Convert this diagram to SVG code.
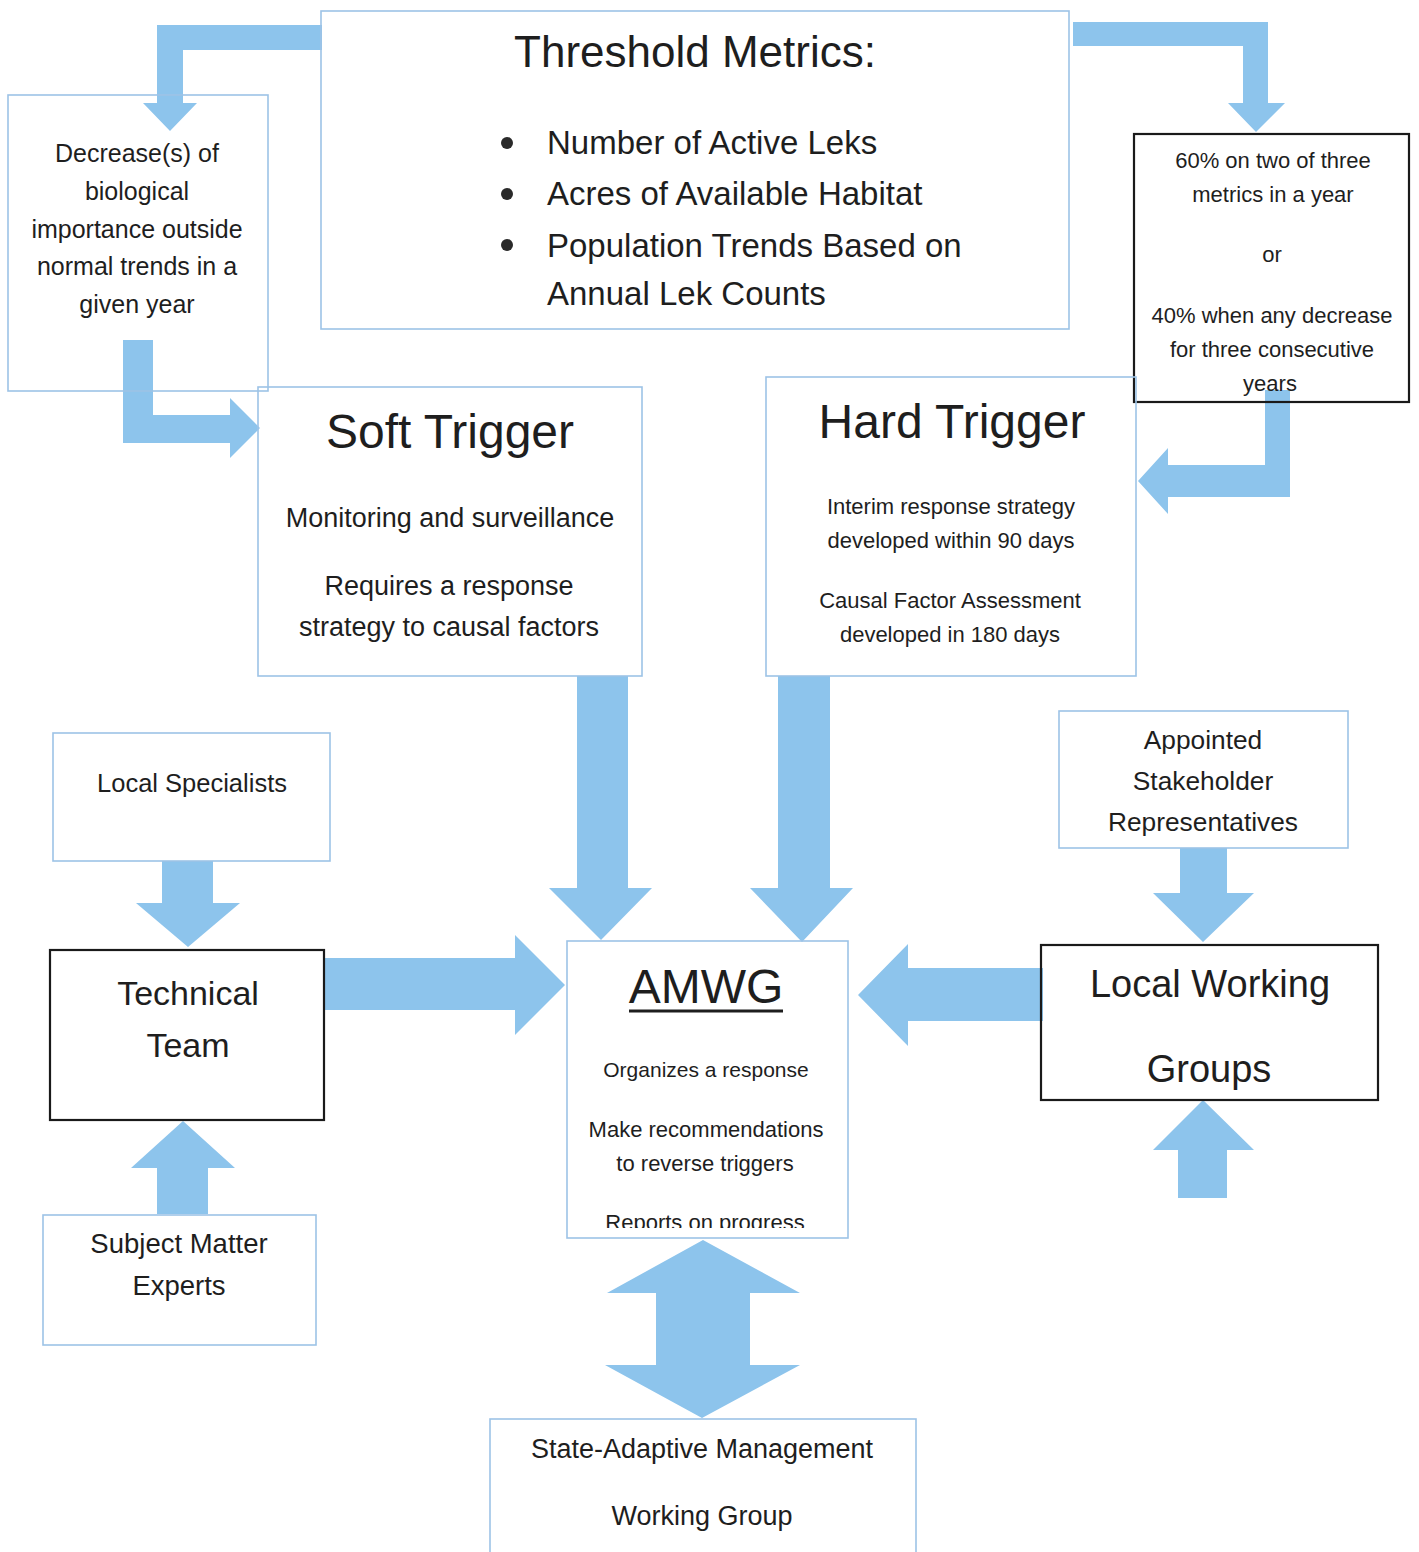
<svg xmlns="http://www.w3.org/2000/svg" width="1419" height="1552" viewBox="0 0 1419 1552">
<defs>
<style>
.box{fill:none;stroke:#9dc3e6;stroke-width:1.6}
.dark{fill:none;stroke:#1a1a1a;stroke-width:2.2}
.arr{fill:#8dc4ec;stroke:none}
text{font-family:"Liberation Sans",Arial,sans-serif;fill:#1e1e1e}
.c{text-anchor:middle}
</style>
<clipPath id="amwgClip"><rect x="567" y="941" width="281" height="287"/></clipPath>
</defs>
<rect width="1419" height="1552" fill="#ffffff"/>
<g id="connectors">
<polygon class="arr" points="322,25 157,25 157,103 143,103 170,131 197,103 183,103 183,50 322,50"/>
<polygon class="arr" points="1073,22 1268,22 1268,103 1285,103 1256,132 1228,103 1243,103 1243,46 1073,46"/>
<polygon class="arr" points="123,340 153,340 153,415 230,415 230,398 260,428 230,458 230,443 123,443"/>
<polygon class="arr" points="1265,390 1290,390 1290,497 1168,497 1168,514 1138,481 1168,448 1168,465 1265,465"/>
<polygon class="arr" points="577,676 628,676 628,888 652,888 601,940 549,888 577,888"/>
<polygon class="arr" points="778,676 830,676 830,888 853,888 802,942 750,888 778,888"/>
<polygon class="arr" points="162,861 213,861 213,903 240,903 188,947 136,903 162,903"/>
<polygon class="arr" points="324,958 515,958 515,935 565,985 515,1035 515,1010 324,1010"/>
<polygon class="arr" points="157,1214 208,1214 208,1168 235,1168 183,1121 131,1168 157,1168"/>
<polygon class="arr" points="1180,848 1227,848 1227,893 1254,893 1203,942 1153,893 1180,893"/>
<polygon class="arr" points="1043,968 908,968 908,944 858,995 908,1046 908,1021 1043,1021"/>
<polygon class="arr" points="1178,1198 1227,1198 1227,1150 1254,1150 1203,1100 1153,1150 1178,1150"/>
<polygon class="arr" points="703,1240 800,1293 750,1293 750,1365 800,1365 702,1418 605,1365 656,1365 656,1293 607,1293"/>
</g>
<g id="threshold">
<rect class="box" x="321" y="11" width="748" height="318"/>
<text class="c" x="695" y="67" font-size="44">Threshold Metrics:</text>
<circle cx="507" cy="143" r="6" fill="#2a2a2a"/>
<circle cx="507" cy="194" r="6" fill="#2a2a2a"/>
<circle cx="507" cy="245" r="6" fill="#2a2a2a"/>
<text x="547" y="154" font-size="33">Number of Active Leks</text>
<text x="547" y="205" font-size="33">Acres of Available Habitat</text>
<text x="547" y="257" font-size="33">Population Trends Based on</text>
<text x="547" y="305" font-size="33">Annual Lek Counts</text>
</g>
<g id="decrease">
<rect class="box" x="8" y="95" width="260" height="296"/>
<text class="c" x="137" y="162" font-size="25">Decrease(s) of</text>
<text class="c" x="137" y="200" font-size="25">biological</text>
<text class="c" x="137" y="238" font-size="25">importance outside</text>
<text class="c" x="137" y="275" font-size="25">normal trends in a</text>
<text class="c" x="137" y="313" font-size="25">given year</text>
</g>
<g id="hardcriteria">
<rect class="dark" x="1134" y="134" width="275" height="268"/>
<text class="c" x="1273" y="168" font-size="22">60% on two of three</text>
<text class="c" x="1273" y="202" font-size="22">metrics in a year</text>
<text class="c" x="1272" y="262" font-size="22">or</text>
<text class="c" x="1272" y="323" font-size="22">40% when any decrease</text>
<text class="c" x="1272" y="357" font-size="22">for three consecutive</text>
<text class="c" x="1270" y="391" font-size="22">years</text>
</g>
<g id="soft">
<rect class="box" x="258" y="387" width="384" height="289"/>
<text class="c" x="450" y="448" font-size="48">Soft Trigger</text>
<text class="c" x="450" y="527" font-size="27">Monitoring and surveillance</text>
<text class="c" x="449" y="595" font-size="27">Requires a response</text>
<text class="c" x="449" y="636" font-size="27">strategy to causal factors</text>
</g>
<g id="hard">
<rect class="box" x="766" y="377" width="370" height="299"/>
<text class="c" x="952" y="438" font-size="48">Hard Trigger</text>
<text class="c" x="951" y="514" font-size="22">Interim response strategy</text>
<text class="c" x="951" y="548" font-size="22">developed within 90 days</text>
<text class="c" x="950" y="608" font-size="22">Causal Factor Assessment</text>
<text class="c" x="950" y="642" font-size="22">developed in 180 days</text>
</g>
<g id="localspecialists">
<rect class="box" x="53" y="733" width="277" height="128"/>
<text class="c" x="192" y="792" font-size="25.5">Local Specialists</text>
</g>
<g id="technicalteam">
<rect class="dark" x="50" y="950" width="274" height="170"/>
<text class="c" x="188" y="1005" font-size="34">Technical</text>
<text class="c" x="188" y="1057" font-size="34">Team</text>
</g>
<g id="amwg">
<rect class="box" x="567" y="941" width="281" height="297"/>
<text class="c" x="706" y="1003" font-size="48">AMWG</text>
<line x1="629" y1="1011" x2="783" y2="1011" stroke="#1e1e1e" stroke-width="3"/>
<g clip-path="url(#amwgClip)">
<text class="c" x="706" y="1077" font-size="21">Organizes a response</text>
<text class="c" x="706" y="1137" font-size="22">Make recommendations</text>
<text class="c" x="705" y="1171" font-size="22">to reverse triggers</text>
<text class="c" x="705" y="1230" font-size="22">Reports on progress</text>
</g>
</g>
<g id="sme">
<rect class="box" x="43" y="1215" width="273" height="130"/>
<text class="c" x="179" y="1253" font-size="27.5">Subject Matter</text>
<text class="c" x="179" y="1295" font-size="27.5">Experts</text>
</g>
<g id="stakeholders">
<rect class="box" x="1059" y="711" width="289" height="137"/>
<text class="c" x="1203" y="749" font-size="26.3">Appointed</text>
<text class="c" x="1203" y="790" font-size="26.3">Stakeholder</text>
<text class="c" x="1203" y="831" font-size="26.3">Representatives</text>
</g>
<g id="lwg">
<rect class="dark" x="1041" y="945" width="337" height="155"/>
<text class="c" x="1210" y="997" font-size="38">Local Working</text>
<text class="c" x="1209" y="1082" font-size="38">Groups</text>
</g>
<g id="samwg">
<rect class="box" x="490" y="1419" width="426" height="140"/>
<text class="c" x="702" y="1458" font-size="27">State-Adaptive Management</text>
<text class="c" x="702" y="1525" font-size="27">Working Group</text>
</g>
</svg>
